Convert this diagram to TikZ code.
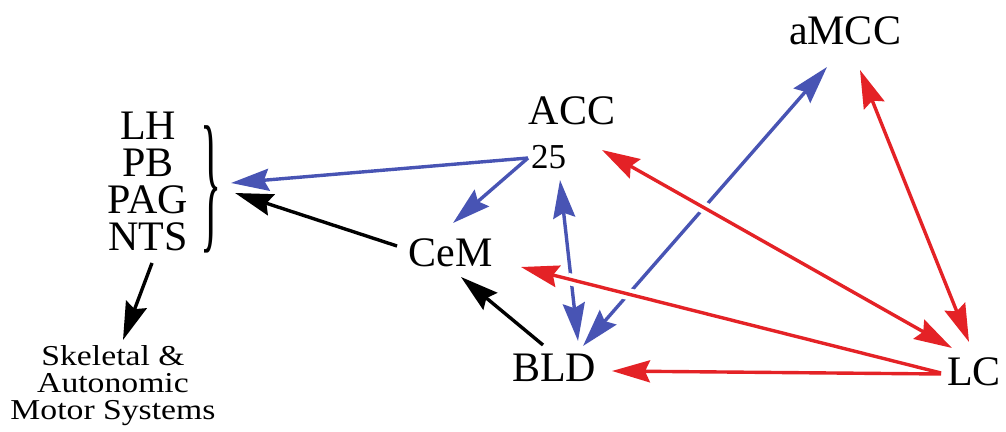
\documentclass[tikz,border=0pt]{standalone}
\usepackage{fontspec}
\usepackage{graphicx}
\setmainfont{Liberation Serif}
\newfontfamily\skelfont[FakeStretch=1.17]{Liberation Serif}
\usetikzlibrary{arrows.meta}
\definecolor{cred}{RGB}{228,34,38}
\definecolor{cblue}{RGB}{72,84,180}
\begin{document}
\begin{tikzpicture}[x=0.5pt,y=-0.5pt,
  lbl/.style={font=\fontsize{21}{21}\selectfont, inner sep=0pt, outer sep=0pt},
  small/.style={font=\fontsize{17.5}{17.5}\selectfont, inner sep=0pt, outer sep=0pt},
  skel/.style={font=\skelfont\fontsize{14.4}{14.4}\selectfont, inner sep=0pt, outer sep=0pt, anchor=base},
  head/.tip={Stealth[length=19pt,width=11pt,inset=2.5pt]},
  one/.style={-head},
  two/.style={head-head},
  con/.style={line width=1.7pt},
  bl/.style={con,draw=cblue,fill=cblue},
  rd/.style={con,draw=cred,fill=cred},
  bk/.style={con,draw=black,fill=black},
  gap/.style={preaction={draw=white,line width=6pt,arrows=-,shorten <=24pt,shorten >=24pt}}
]
\useasboundingbox (0,0) rectangle (1006,432);

% nodes
\node[lbl] (amcc) at (845,31) {aMCC};
\node[lbl] (acc) at (572,111) {ACC};
\node[small] (n25) at (548.5,157) {25};
\node[lbl] (cem) at (450.5,253) {CeM};
\node[lbl] (bld) at (554,368) {BLD};
\node[lbl] (lc) at (974,372) {LC};
\node[lbl, align=center, font=\fontsize{21}{18.5}\selectfont, anchor=south] (grp) at (148,251)
  {LH\\PB\\PAG\\NTS};
\node[skel] (sk1) at (113,365) {Skeletal \&};
\node[skel] (sk2) at (113,393) {Autonomic};
\node[skel] (sk3) at (113,420) {Motor Systems};

% brace
\node[inner sep=0pt, outer sep=0pt] (brace) at (211,189)
  {\scalebox{1}[3.5]{\fontsize{22}{22}\selectfont\}}};

% blue connectors
\draw[bl,one] ([shift={(-20.5,1)}]n25.center) -- ([shift={(9.5,-6)}]brace.east);
\draw[bl,one] ([shift={(-20.5,1)}]n25.center) -- ([shift={(2.5,-30)}]cem.center);
\draw[bl,two] ([shift={(11.5,23)}]n25.center) -- ([shift={(24,-27)}]bld.center);
\draw[bl,two] ([shift={(-18,36)}]amcc.center) -- ([shift={(29,-22)}]bld.center);

% red connectors
\draw[rd,two,gap] ([shift={(30,39)}]acc.center) -- ([shift={(-22,-24)}]lc.center);
\draw[rd,two] ([shift={(15,39)}]amcc.center) -- ([shift={(-5,-30)}]lc.center);
\draw[rd,one,gap] ([shift={(-33,1)}]lc.center) -- ([shift={(70.5,14)}]cem.center);
\draw[rd,one] ([shift={(-33,2)}]lc.center) -- ([shift={(58,3)}]bld.center);

% black connectors
\draw[bk,one] ([shift={(-53.5,-7)}]cem.center) -- ([shift={(13.5,4)}]brace.east);
\draw[bk,one] ([shift={(-11,-23)}]bld.center) -- ([shift={(10.5,24)}]cem.center);
\draw[bk,one] ([shift={(4,12)}]grp.south) -- ([shift={(10,-25)}]sk1.base);
\end{tikzpicture}
\end{document}
